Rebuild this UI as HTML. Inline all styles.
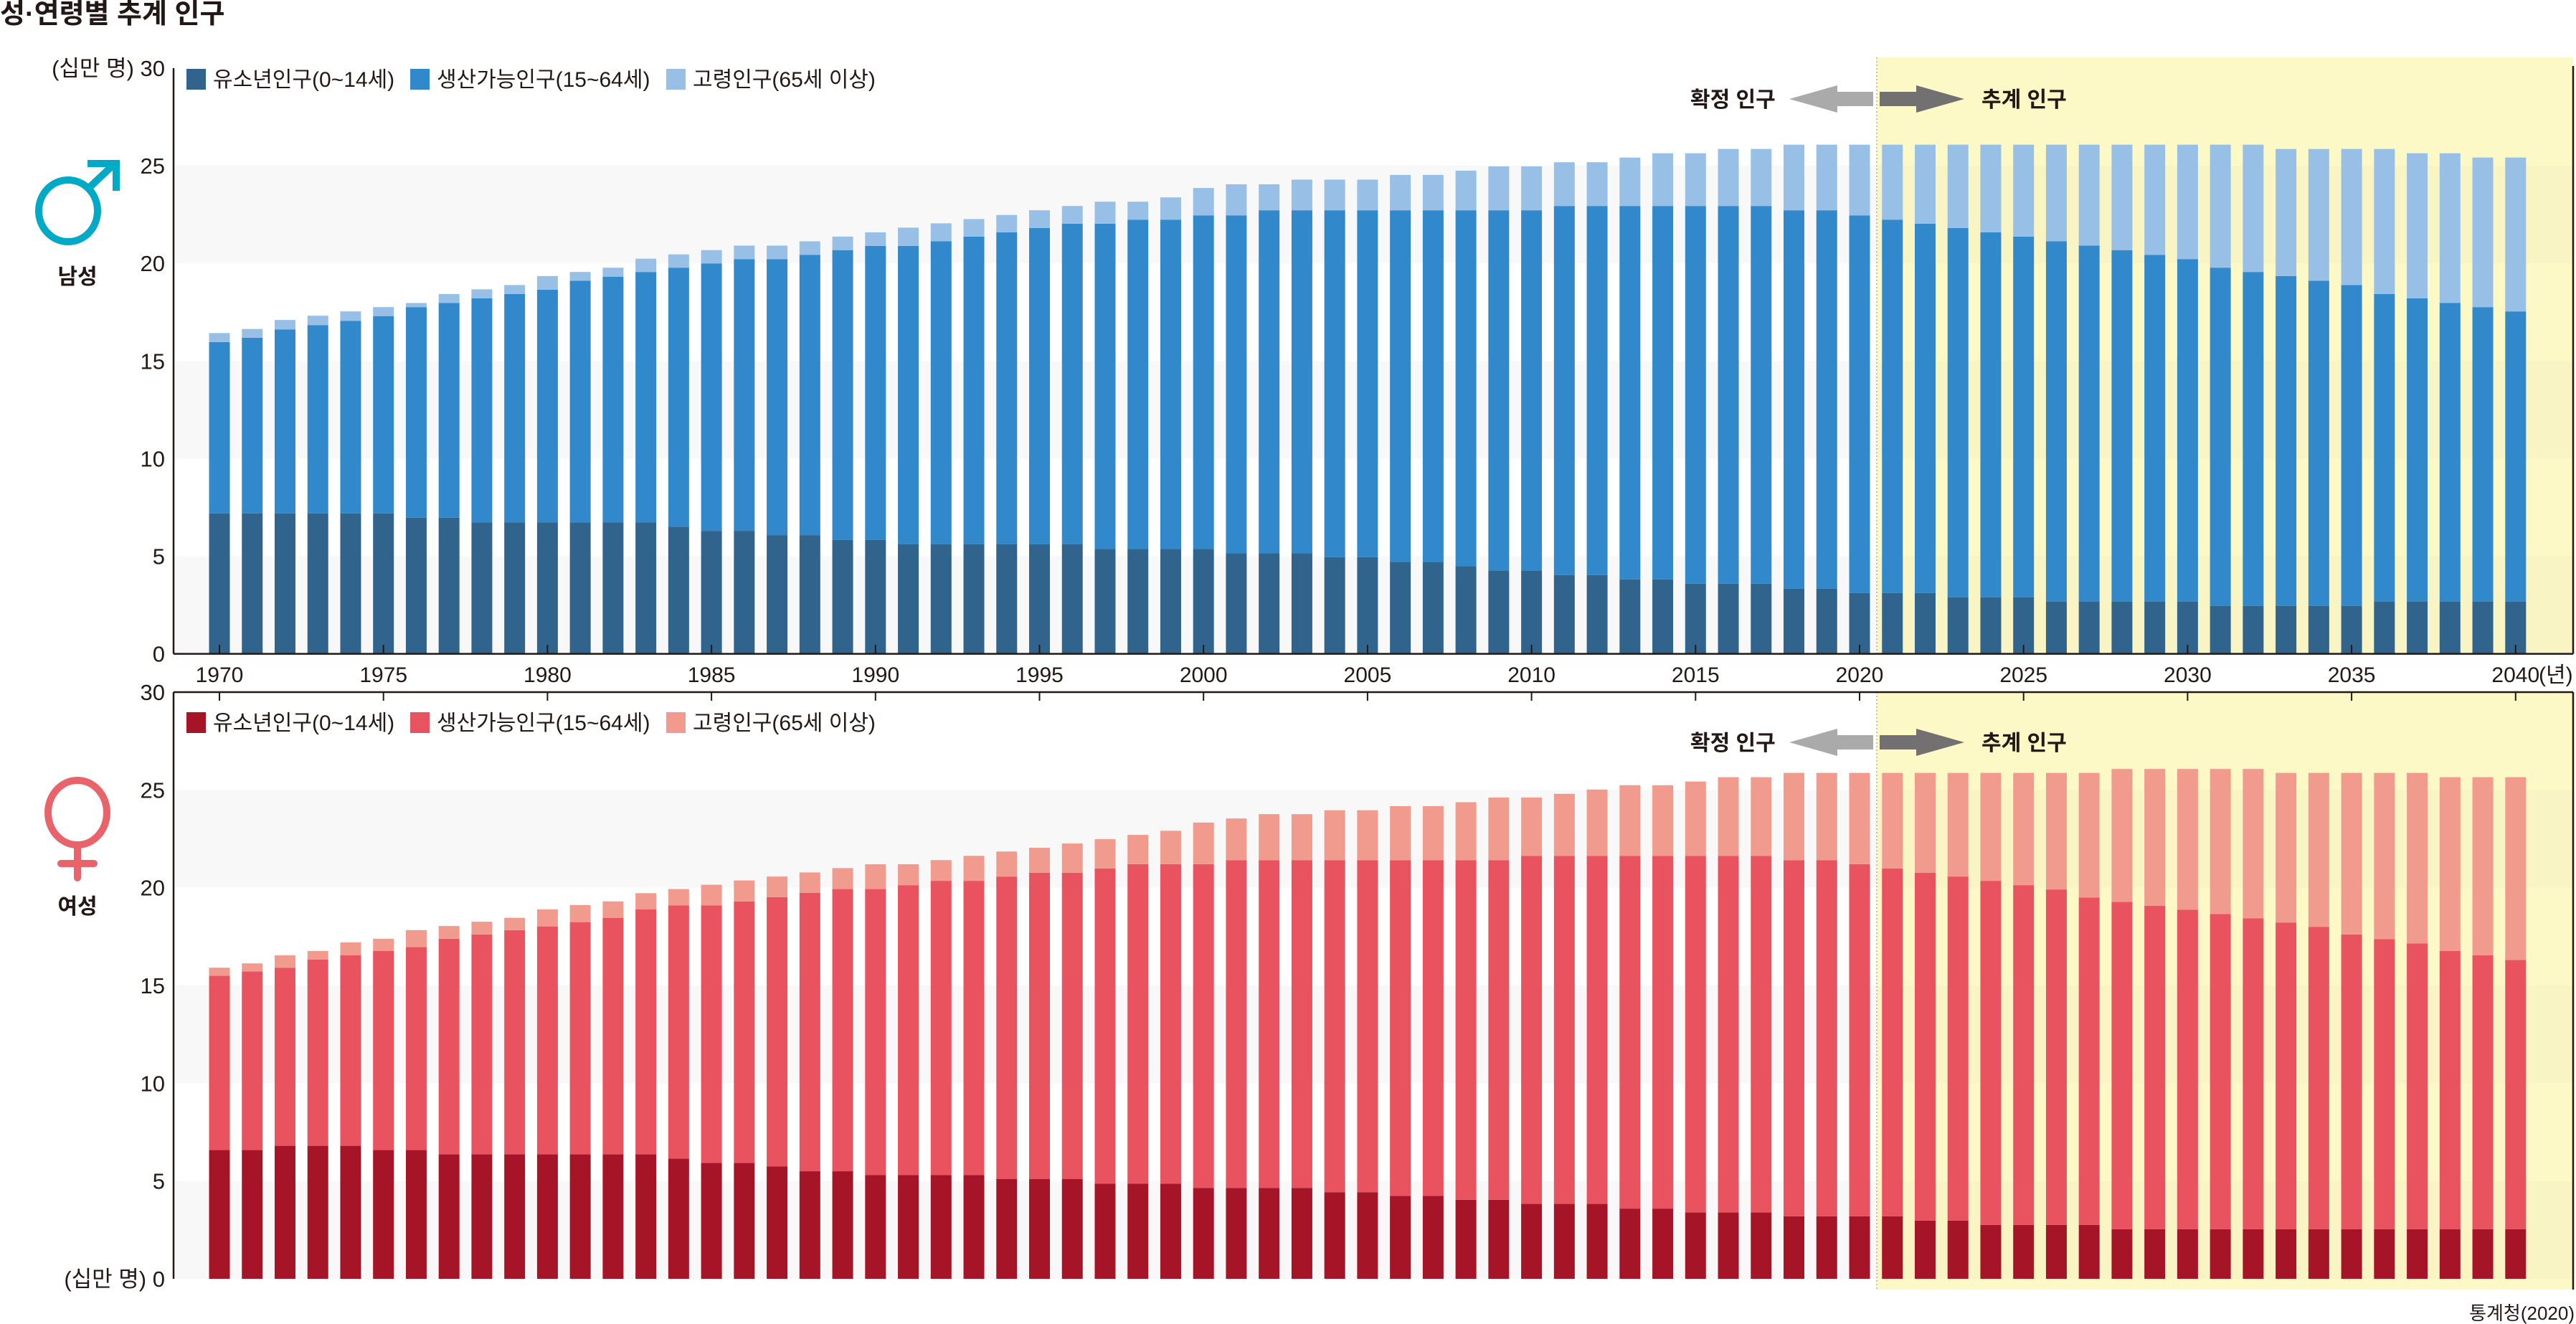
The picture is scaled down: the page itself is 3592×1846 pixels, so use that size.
<!DOCTYPE html>
<html><head><meta charset="utf-8">
<style>
html,body{margin:0;padding:0;background:#fff;}
svg{display:block;}
text{font-family:"Liberation Sans","Noto Sans CJK KR",sans-serif;}
</style></head>
<body>
<svg id="chart" xmlns="http://www.w3.org/2000/svg" width="3592" height="1846" viewBox="0 0 3592 1846">
<text x="0" y="32" font-size="38" font-weight="bold" fill="#231815">성·연령별 추계 인구</text>
<g id="bg"></g>
<g id="bars"></g>
<g id="axes"></g>
<g id="deco"></g>
<text x="3590" y="1840" font-size="26" text-anchor="end" fill="#231815">통계청(2020)</text>
</svg>
<script>
const years = [];
for (let y = 1970; y <= 2040; y++) years.push(y);
const yTicks = [0, 5, 10, 15, 20, 25, 30];
const xTickYears = [1970, 1975, 1980, 1985, 1990, 1995, 2000, 2005, 2010, 2015, 2020, 2025, 2030, 2035, 2040];

const maleYouth = [7.19,7.19,7.19,7.19,7.19,7.19,6.97,6.97,6.73,6.73,6.73,6.73,6.73,6.73,6.51,6.30,6.30,6.08,6.08,5.84,5.84,
 5.62,5.62,5.62,5.62,5.62,5.62,5.38,5.38,5.38,5.38,5.16,5.16,5.16,4.95,4.95,4.71,4.71,4.49,4.27,4.27,4.03,4.03,3.81,3.81,3.59,3.59,3.59,3.33,3.33,
 3.12,3.12,3.12,2.90,2.90,2.90,2.68,2.68,2.68,2.68,2.68,2.46,2.46,2.46,2.46,2.46,2.68,2.68,2.68,2.68,2.68];
const maleWorkingTop = [15.97,16.19,16.62,16.84,17.06,17.30,17.76,17.97,18.21,18.43,18.65,19.11,19.32,19.56,19.78,20.0,20.22,20.22,20.44,20.68,20.89,
 20.89,21.13,21.37,21.59,21.81,22.03,22.03,22.24,22.24,22.46,22.46,22.72,22.72,22.72,22.72,22.72,22.72,22.72,22.72,22.72,22.94,22.94,22.94,22.94,22.94,22.94,22.94,22.72,22.72,
 22.46,22.24,22.03,21.81,21.59,21.37,21.13,20.91,20.68,20.44,20.22,19.78,19.56,19.35,19.11,18.89,18.43,18.21,17.97,17.76,17.54];
const maleTotal = [16.43,16.64,17.10,17.32,17.54,17.76,17.97,18.43,18.67,18.89,19.35,19.56,19.78,20.24,20.46,20.68,20.91,20.91,21.13,21.37,21.59,
 21.83,22.05,22.27,22.48,22.72,22.94,23.16,23.16,23.38,23.86,24.05,24.05,24.29,24.29,24.29,24.53,24.53,24.75,24.97,24.97,25.18,25.18,25.42,25.64,25.64,25.86,25.86,26.08,26.08,
 26.08,26.08,26.08,26.08,26.08,26.08,26.08,26.08,26.08,26.08,26.08,26.08,26.08,25.86,25.86,25.86,25.86,25.64,25.64,25.42,25.42];

const femaleYouth = [6.59,6.59,6.80,6.80,6.80,6.59,6.59,6.37,6.37,6.37,6.37,6.37,6.37,6.37,6.15,5.93,5.93,5.74,5.50,5.50,5.30,
 5.30,5.30,5.30,5.11,5.11,5.11,4.87,4.87,4.87,4.65,4.65,4.65,4.65,4.43,4.43,4.24,4.24,4.04,4.04,3.83,3.83,3.83,3.59,3.59,3.39,3.39,3.39,3.20,3.20,
 3.20,3.20,2.98,2.98,2.76,2.76,2.76,2.76,2.54,2.54,2.54,2.54,2.54,2.54,2.54,2.54,2.54,2.54,2.54,2.54,2.54];
const femaleWorkingTop = [15.50,15.72,15.91,16.33,16.54,16.76,16.96,17.39,17.61,17.83,18.02,18.24,18.46,18.89,19.09,19.09,19.30,19.52,19.74,19.93,19.93,
 20.13,20.35,20.35,20.57,20.76,20.76,20.98,21.20,21.20,21.20,21.41,21.41,21.41,21.41,21.41,21.41,21.41,21.41,21.41,21.63,21.63,21.63,21.63,21.63,21.63,21.63,21.63,21.41,21.41,
 21.20,20.98,20.76,20.57,20.35,20.13,19.91,19.50,19.28,19.07,18.87,18.65,18.43,18.22,18.00,17.61,17.37,17.15,16.76,16.54,16.30];
const femaleTotal = [15.91,16.13,16.54,16.76,17.20,17.39,17.83,18.04,18.26,18.46,18.89,19.11,19.30,19.72,19.93,20.15,20.37,20.57,20.78,21.00,21.20,
 21.20,21.41,21.63,21.85,22.04,22.26,22.48,22.70,22.91,23.33,23.54,23.76,23.76,23.96,23.96,24.17,24.17,24.37,24.61,24.61,24.80,25.02,25.24,25.24,25.43,25.65,25.65,25.87,25.87,
 25.87,25.87,25.87,25.87,25.87,25.87,25.87,25.87,26.07,26.07,26.07,26.07,26.07,25.87,25.87,25.87,25.87,25.87,25.65,25.65,25.65];

const NS = "http://www.w3.org/2000/svg";
function mk(parent, tag, attrs, txt) {
  const e = document.createElementNS(NS, tag);
  for (const k in attrs) e.setAttribute(k, attrs[k]);
  if (txt !== undefined) e.textContent = txt;
  parent.appendChild(e);
  return e;
}
const gBg = document.getElementById('bg');
const gBars = document.getElementById('bars');
const gAxes = document.getElementById('axes');
const gDeco = document.getElementById('deco');

const AXL = 242, AXR = 3588, YEL = 2617;
function xScale(year) { return 306 + (year - 1970) * 45.74; }
const BW = 29;
const panels = [
  { key: 'male', y0: 911.6, y30: 95, yelTop: 80, yelBot: 911.6, lineTop: 92,
    data: [maleYouth, maleWorkingTop, maleTotal], colors: ['#31648c', '#3189cb', '#98c0e6'],
    legendY: 96 },
  { key: 'female', y0: 1783, y30: 965, yelTop: 965, yelBot: 1798, lineTop: 965,
    data: [femaleYouth, femaleWorkingTop, femaleTotal], colors: ['#a51427', '#e9535f', '#f19b8e'],
    legendY: 993 }
];
const legendLabels = ['유소년인구(0~14세)', '생산가능인구(15~64세)', '고령인구(65세 이상)'];
const legendX = [260, 572, 929];
const segNames = ['youth', 'working-age', 'elderly'];

panels.forEach(p => {
  const ys = v => p.y0 - (v / 30) * (p.y0 - p.y30);
  // bands
  for (let b = 0; b < 30; b += 10) {
    const r = mk(gBg, 'rect', { x: AXL, y: ys(b + 5), width: YEL - AXL, height: ys(b) - ys(b + 5), fill: '#f8f8f8' });
    
    
  }
  const yr = mk(gBg, 'rect', { x: YEL, y: p.yelTop, width: AXR - YEL, height: p.yelBot - p.yelTop, fill: '#fdf9c6' });
  
  
  for (let b = 0; b < 30; b += 10) {
    const r = mk(gBg, 'rect', { x: YEL, y: ys(b + 5), width: AXR - YEL, height: ys(b) - ys(b + 5), fill: '#f8f4c3' });
    
    
  }
  const dl = mk(gBg, 'line', { x1: YEL, x2: YEL, y1: p.yelTop, y2: p.yelBot, stroke: '#b5b28a', 'stroke-width': 1.5, 'stroke-dasharray': '2,3' });
  
  

  // bars
  years.forEach((yv, i) => {
    const bounds = [0, p.data[0][i], p.data[1][i], p.data[2][i]];
    for (let s = 0; s < 3; s++) {
      const r = mk(gBars, 'rect', { x: xScale(yv) - BW / 2, y: ys(bounds[s + 1]), width: BW, height: Math.max(0, ys(bounds[s]) - ys(bounds[s + 1])), fill: p.colors[s] });
      
      
    }
  });

  // axes
  const la = mk(gAxes, 'line', { x1: AXL, x2: AXL, y1: p.y30, y2: p.y0, stroke: '#231815', 'stroke-width': 2.5 });
  
  
  const ra = mk(gAxes, 'line', { x1: AXR, x2: AXR, y1: p.lineTop, y2: p.yelBot, stroke: '#231815', 'stroke-width': 2.5 });
  
  
  yTicks.forEach(t => {
    const lbl = (p.key === 'male' && t === 30) || (p.key === 'female' && t === 0) ? '(십만 명) ' + t : String(t);
    const tx = mk(gAxes, 'text', { x: 230, y: ys(t) + 11, 'font-size': 31, 'text-anchor': 'end', fill: '#231815' }, lbl);
    
    
  });

  // legend
  legendLabels.forEach((l, k) => {
    const sq = mk(gAxes, 'rect', { x: legendX[k], y: p.legendY, width: 27, height: 29, fill: p.colors[k] });
    
    
    const t = mk(gAxes, 'text', { x: legendX[k] + 37, y: p.legendY + 25, 'font-size': 30, fill: '#231815' }, l);
    
    
  });

  // arrows
  const ay = p.key === 'male' ? 138 : 1035;
  const t1 = mk(gDeco, 'text', { x: 2357, y: ay + 11, 'font-size': 30, 'font-weight': 'bold', fill: '#231815' }, '확정 인구');
  
  
  const a1 = mk(gDeco, 'polygon', { points: `2495,${ay} 2562,${ay - 19} 2562,${ay - 10} 2612,${ay - 10} 2612,${ay + 10} 2562,${ay + 10} 2562,${ay + 19}`, fill: '#aaaaaa' });
  
  
  const a2 = mk(gDeco, 'polygon', { points: `2621,${ay - 10} 2672,${ay - 10} 2672,${ay - 19} 2739,${ay} 2672,${ay + 19} 2672,${ay + 10} 2621,${ay + 10}`, fill: '#727071' });
  
  
  const t2 = mk(gDeco, 'text', { x: 2763, y: ay + 11, 'font-size': 30, 'font-weight': 'bold', fill: '#231815' }, '추계 인구');
  
  
});

// shared x axis between charts
const xa1 = mk(gAxes, 'line', { x1: AXL, x2: AXR, y1: 911.6, y2: 911.6, stroke: '#231815', 'stroke-width': 2.5 });


const xa2 = mk(gAxes, 'line', { x1: AXL, x2: AXR, y1: 965, y2: 965, stroke: '#231815', 'stroke-width': 2.5 });


xTickYears.forEach(yv => {
  const x = xScale(yv);
  const t1 = mk(gAxes, 'line', { x1: x, x2: x, y1: 899, y2: 911.6, stroke: '#231815', 'stroke-width': 2 });
  
  
  const t2 = mk(gAxes, 'line', { x1: x, x2: x, y1: 965, y2: 977, stroke: '#231815', 'stroke-width': 2 });
  
  
  const lb = mk(gAxes, 'text', { x: x, y: 951, 'font-size': 30, 'text-anchor': 'middle', fill: '#231815' }, String(yv));
  
  
});
const yu = mk(gAxes, 'text', { x: 3540, y: 951, 'font-size': 30, fill: '#231815' }, '(년)');


</script>
<svg style="position:absolute;left:0;top:0" width="3592" height="1846" viewBox="0 0 3592 1846">
  <g fill="none" stroke="#00a9c6" stroke-width="10">
    <ellipse cx="95" cy="294" rx="41" ry="43"/>
    <line x1="124" y1="262" x2="160" y2="228"/>
    <polyline points="122,228 162,228 162,266"/>
  </g>
  <text x="108" y="396" font-size="30" font-weight="bold" text-anchor="middle" fill="#231815" font-family="Liberation Sans, Noto Sans CJK KR, sans-serif">남성</text>
  <g fill="none" stroke="#e8636a" stroke-width="10" stroke-linecap="round">
    <ellipse cx="108" cy="1133" rx="41" ry="45"/>
    <line x1="108" y1="1178" x2="108" y2="1224"/>
    <line x1="85" y1="1204" x2="131" y2="1204"/>
  </g>
  <text x="108" y="1274" font-size="30" font-weight="bold" text-anchor="middle" fill="#231815" font-family="Liberation Sans, Noto Sans CJK KR, sans-serif">여성</text>
</svg>
</body></html>
